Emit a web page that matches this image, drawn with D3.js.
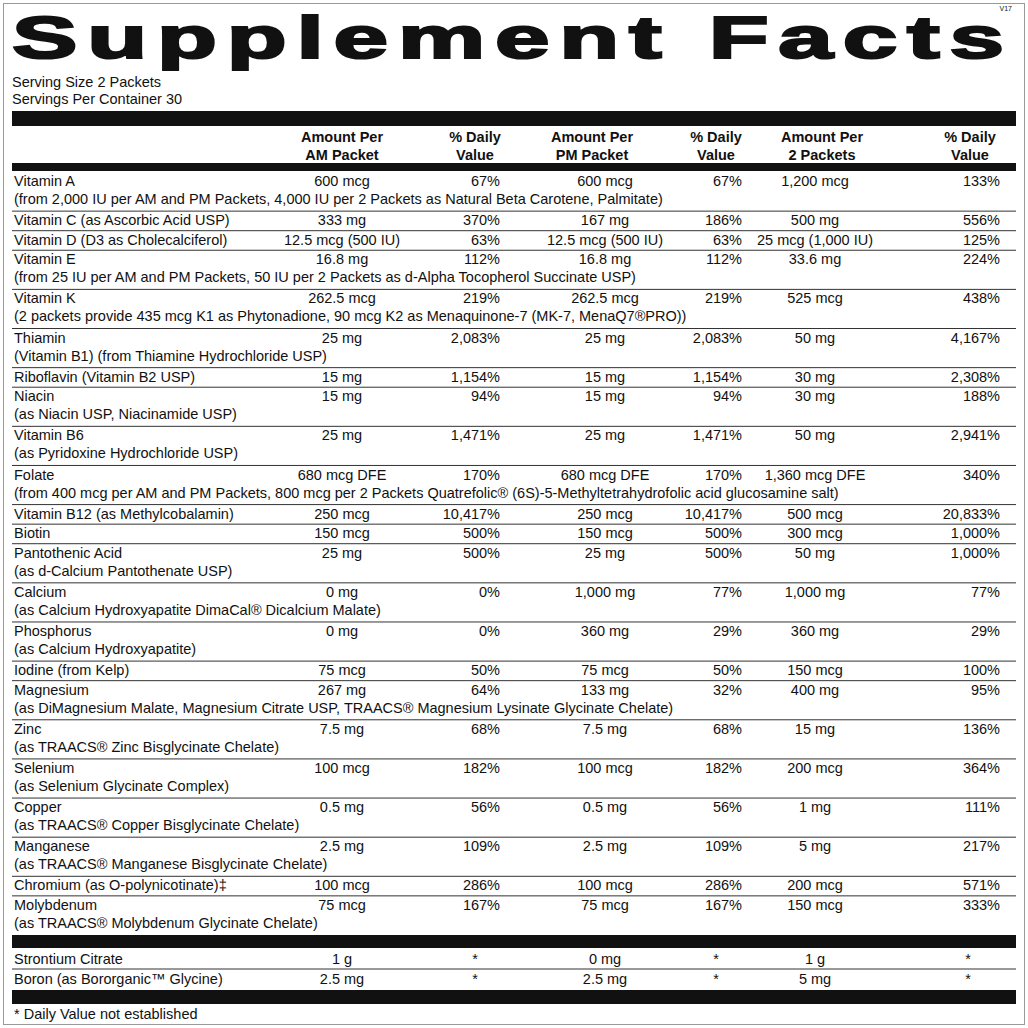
<!DOCTYPE html>
<html><head><meta charset="utf-8">
<script src="https://cdn.jsdelivr.net/npm/d3@7"></script>
<style>body{margin:0;background:#fff}text{font-family:"Liberation Sans",Arial,sans-serif;fill:#111}</style>
</head><body><svg id="c" width="1028" height="1028"></svg>
<script>
// nutrient rows: name, sub line, AM amount, AM %DV, PM amount, PM %DV, 2pk amount, 2pk %DV
var names = ["Vitamin A","Vitamin C (as Ascorbic Acid USP)","Vitamin D (D3 as Cholecalciferol)","Vitamin E","Vitamin K","Thiamin","Riboflavin (Vitamin B2 USP)","Niacin","Vitamin B6","Folate","Vitamin B12 (as Methylcobalamin)","Biotin","Pantothenic Acid","Calcium","Phosphorus","Iodine (from Kelp)","Magnesium","Zinc","Selenium","Copper","Manganese","Chromium (as O-polynicotinate)\u2021","Molybdenum"];
var subs = ["(from 2,000 IU per AM and PM Packets, 4,000 IU per 2 Packets as Natural Beta Carotene, Palmitate)","","",
 "(from 25 IU per AM and PM Packets, 50 IU per 2 Packets as d-Alpha Tocopherol Succinate USP)",
 "(2 packets provide 435 mcg K1 as Phytonadione, 90 mcg K2 as Menaquinone-7 (MK-7, MenaQ7\u00AEPRO))",
 "(Vitamin B1) (from Thiamine Hydrochloride USP)","","(as Niacin USP, Niacinamide USP)","(as Pyridoxine Hydrochloride USP)",
 "(from 400 mcg per AM and PM Packets, 800 mcg per 2 Packets Quatrefolic\u00AE (6S)-5-Methyltetrahydrofolic acid glucosamine salt)",
 "","","(as d-Calcium Pantothenate USP)","(as Calcium Hydroxyapatite DimaCal\u00AE Dicalcium Malate)","(as Calcium Hydroxyapatite)","",
 "(as DiMagnesium Malate, Magnesium Citrate USP, TRAACS\u00AE Magnesium Lysinate Glycinate Chelate)",
 "(as TRAACS\u00AE Zinc Bisglycinate Chelate)","(as Selenium Glycinate Complex)","(as TRAACS\u00AE Copper Bisglycinate Chelate)",
 "(as TRAACS\u00AE Manganese Bisglycinate Chelate)","","(as TRAACS\u00AE Molybdenum Glycinate Chelate)"];
var amAmt = ["600 mcg","333 mg","12.5 mcg (500 IU)","16.8 mg","262.5 mcg","25 mg","15 mg","15 mg","25 mg","680 mcg DFE","250 mcg","150 mcg","25 mg","0 mg","0 mg","75 mcg","267 mg","7.5 mg","100 mcg","0.5 mg","2.5 mg","100 mcg","75 mcg"];
var amDV = ["67%","370%","63%","112%","219%","2,083%","1,154%","94%","1,471%","170%","10,417%","500%","500%","0%","0%","50%","64%","68%","182%","56%","109%","286%","167%"];
var pmAmt = ["600 mcg","167 mg","12.5 mcg (500 IU)","16.8 mg","262.5 mcg","25 mg","15 mg","15 mg","25 mg","680 mcg DFE","250 mcg","150 mcg","25 mg","1,000 mg","360 mg","75 mcg","133 mg","7.5 mg","100 mcg","0.5 mg","2.5 mg","100 mcg","75 mcg"];
var pmDV = ["67%","186%","63%","112%","219%","2,083%","1,154%","94%","1,471%","170%","10,417%","500%","500%","77%","29%","50%","32%","68%","182%","56%","109%","286%","167%"];
var totAmt = ["1,200 mcg","500 mg","25 mcg (1,000 IU)","33.6 mg","525 mcg","50 mg","30 mg","30 mg","50 mg","1,360 mcg DFE","500 mcg","300 mcg","50 mg","1,000 mg","360 mg","150 mcg","400 mg","15 mg","200 mcg","1 mg","5 mg","200 mcg","150 mcg"];
var totDV = ["133%","556%","125%","224%","438%","4,167%","2,308%","188%","2,941%","340%","20,833%","1,000%","1,000%","77%","29%","100%","95%","136%","364%","111%","217%","571%","333%"];
// other ingredients
var otherNames = ["Strontium Citrate","Boron (as Bororganic\u2122 Glycine)"];
var otherAm = ["1 g","2.5 mg"], otherPm = ["0 mg","2.5 mg"], otherTot = ["1 g","5 mg"];
var headers = [["Amount Per","AM Packet"],["% Daily","Value"],["Amount Per","PM Packet"],["% Daily","Value"],["Amount Per","2 Packets"],["% Daily","Value"]];

var svg = d3.select("#c");
var L = 12, R = 1016;
svg.append("rect").attr("x",3.5).attr("y",3.5).attr("width",1021).attr("height",1021).attr("fill","none").attr("stroke","#999");
svg.append("text").attr("x",1012).attr("y",11).attr("font-size",7).attr("text-anchor","end").text("V17");
svg.append("text").attr("x",L).attr("y",58).attr("font-size",60).attr("font-weight","bold")
  .attr("stroke","#111").attr("stroke-width",2.2)
  .attr("textLength",R-L-2).attr("lengthAdjust","spacingAndGlyphs").style("letter-spacing","6px").text("Supplement Facts");
svg.append("text").attr("x",L).attr("y",87).attr("font-size",14.5).text("Serving Size 2 Packets");
svg.append("text").attr("x",L).attr("y",104).attr("font-size",14.5).text("Servings Per Container 30");

function bar(y0,y1){ svg.append("rect").attr("x",L).attr("y",y0).attr("width",R-L).attr("height",y1-y0).attr("fill","#111"); }
bar(111,126); bar(163,171);

var hx = [342,475,592,716,822,970];
headers.forEach(function(h,i){
  h.forEach(function(t,j){
    svg.append("text").attr("x",hx[i]).attr("y",142+j*18).attr("font-size",14.5).attr("font-weight","bold")
      .attr("text-anchor","middle").text(t);
  });
});

// vertical scale on cumulative text lines
var lines = subs.map(function(s){ return s ? 2 : 1; });
var starts = [0]; lines.forEach(function(n,i){ starts.push(starts[i]+n); });
var y = d3.scaleLinear().domain([0,starts[starts.length-1]]).range([172,935]);

var amX = 342, pmX = 605, totX = 815, dvX = [500,742,1000];
function amount(x, yy, t, limit){
  var el = svg.append("text").attr("x",x).attr("y",yy).attr("font-size",14.5).attr("text-anchor","middle").text(t);
  var w = el.node().getComputedTextLength();
  if (x + w/2 > limit) el.attr("text-anchor","end").attr("x",limit);
}
function dv(x, yy, t){ svg.append("text").attr("x",x).attr("y",yy).attr("font-size",14.5).attr("text-anchor","end").text(t); }

names.forEach(function(n,i){
  var top = y(starts[i]), lh = y(1)-y(0);
  var ty = top + lh*0.72;
  svg.append("text").attr("x",L+2).attr("y",ty).attr("font-size",14.5).text(n);
  if (subs[i]) svg.append("text").attr("x",L+2).attr("y",ty+lh*0.92).attr("font-size",14.5).text(subs[i]);
  amount(amX, ty, amAmt[i], 430); dv(dvX[0], ty, amDV[i]);
  amount(pmX, ty, pmAmt[i], 683); dv(dvX[1], ty, pmDV[i]);
  amount(totX, ty, totAmt[i], 922); dv(dvX[2], ty, totDV[i]);
  if (i > 0) svg.append("line").attr("x1",L).attr("x2",R).attr("y1",top).attr("y2",top).attr("stroke","#333").attr("stroke-width",1);
});

bar(935,948);
var y2 = d3.scaleLinear().domain([0,2]).range([949,989]);
otherNames.forEach(function(n,i){
  var top = y2(i), ty = top + 14.5;
  svg.append("text").attr("x",L+2).attr("y",ty).attr("font-size",14.5).text(n);
  amount(amX, ty, otherAm[i], 430); amount(pmX, ty, otherPm[i], 683); amount(totX, ty, otherTot[i], 922);
  [475,716,968].forEach(function(x){ svg.append("text").attr("x",x).attr("y",ty).attr("font-size",14.5).attr("text-anchor","middle").text("*"); });
  if (i > 0) svg.append("line").attr("x1",L).attr("x2",R).attr("y1",top).attr("y2",top).attr("stroke","#333");
});
bar(990,1004);
svg.append("text").attr("x",L+2).attr("y",1019).attr("font-size",14.5).text("* Daily Value not established");
</script></body></html>
